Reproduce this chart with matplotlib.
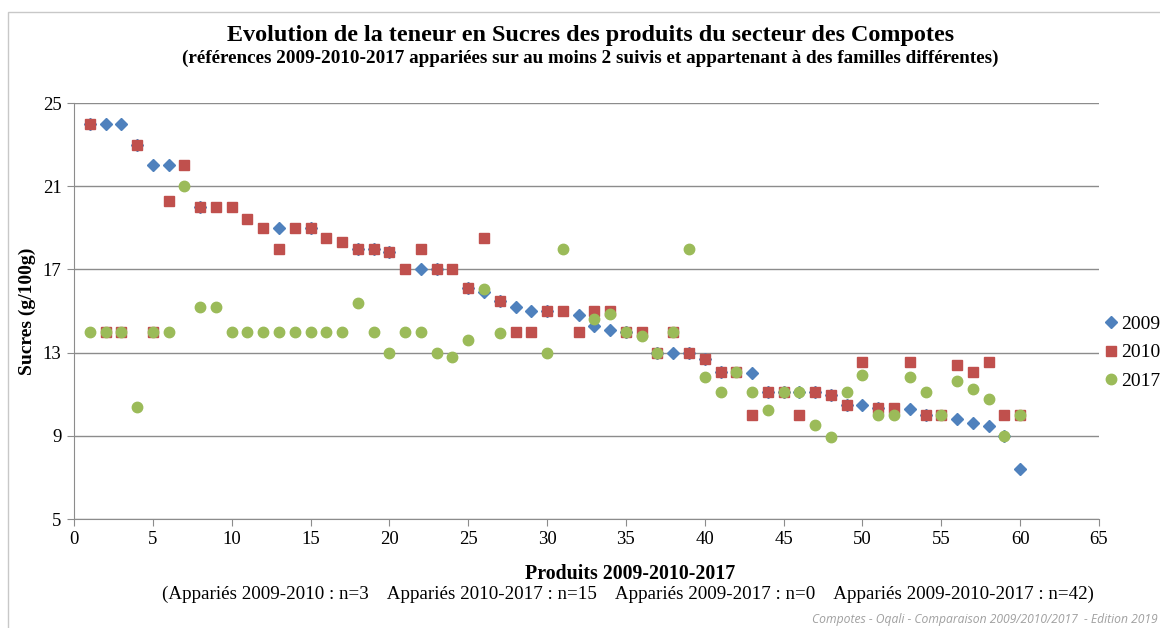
import numpy as np
import matplotlib
matplotlib.use('Agg')
import matplotlib.pyplot as plt
from matplotlib.patches import Rectangle

nan = np.nan

produits = np.arange(1, 61)

sucres_2009 = [24, 24, 24, 23, 22, 22, nan, 20, nan, nan,
               nan, nan, 19, nan, 19, nan, nan, 18, 18, 17.85,
               nan, 17, 17, nan, 16.1, 15.9, 15.5, 15.2, 15.0, 15.0,
               nan, 14.8, 14.3, 14.1, 14, nan, 13, 13, 13, 12.7,
               12.05, nan, 12.0, 11.1, 11.1, 11.1, 11.1, 10.95, 10.5, 10.5,
               10.35, nan, 10.3, 10.0, nan, 9.8, 9.6, 9.45, 9.0, 7.4]

sucres_2010 = [24, 14, 14, 23, 14, 20.3, 22, 20, 20, 20,
               19.4, 19, 18, 19, 19, 18.5, 18.3, 18, 18, 17.85,
               17, 18, 17, 17, 16.1, 18.5, 15.5, 14, 14, 15,
               15, 14, 15, 15, 14, 14, 13, 14, 13, 12.7,
               12.05, 12.05, 10, 11.1, 11.1, 10, 11.1, 10.95, 10.5, 12.55,
               10.35, 10.35, 12.55, 10, 10, 12.4, 12.05, 12.55, 10, 10]

sucres_2017 = [14, 14, 14, 10.4, 14, 14, 21, 15.2, 15.2, 14,
               14, 14, 14, 14, 14, 14, 14, 15.4, 14, 13,
               14, 14, 13, 12.8, 13.6, 16.05, 13.95, nan, nan, 13,
               18, nan, 14.6, 14.85, 14, 13.8, 13, 14, 18, 11.85,
               11.1, 12.05, 11.1, 10.25, 11.1, 11.1, 9.5, 8.95, 11.1, 11.9,
               10, 10, 11.85, 11.1, 10, 11.65, 11.25, 10.75, 9.0, 10]

serif = 'Liberation Serif'

fig = plt.figure(figsize=(11.6, 6.28), dpi=100)
fig.patches.append(Rectangle((8 / 1160, -0.1), 1.2, 1 - 12 / 628 + 0.1,
                             transform=fig.transFigure, fill=False,
                             edgecolor='#c8c8c8', linewidth=1))

ax = fig.add_axes([74 / 1160, 1 - 519 / 628, 1025 / 1160, 416 / 628])

ax.plot(produits, sucres_2009, linestyle='none', marker='D', markersize=5.8,
        color='#4F81BD', label='2009')
ax.plot(produits, sucres_2010, linestyle='none', marker='s', markersize=7,
        color='#C0504D', label='2010')
ax.plot(produits, sucres_2017, linestyle='none', marker='o', markersize=7.5,
        color='#9BBB59', label='2017')

ax.set_xlim(0, 65)
ax.set_ylim(5, 25)
ax.set_xticks(np.arange(0, 66, 5))
ax.set_yticks(np.arange(5, 26, 4))
ax.grid(axis='y', color='#8c8c8c', linewidth=1)
ax.set_axisbelow(True)
for s in ['top', 'right']:
    ax.spines[s].set_visible(False)
for s in ['left', 'bottom']:
    ax.spines[s].set_color('#8c8c8c')
ax.tick_params(direction='out', length=5, color='#8c8c8c', labelsize=13.5,
               pad=4)
for lab in ax.get_xticklabels() + ax.get_yticklabels():
    lab.set_family(serif)

leg = ax.legend(loc='center left', bbox_to_anchor=(0.995, 0.4), frameon=False,
                prop={'family': serif, 'size': 14}, handletextpad=0.0,
                labelspacing=0.55, borderaxespad=0.0, handlelength=1.0)

fig.text(591 / 1160, 1 - 35 / 628,
         'Evolution de la teneur en Sucres des produits du secteur des Compotes',
         ha='center', va='center', family=serif, weight='bold', fontsize=17.4)
fig.text(590 / 1160, 1 - 58 / 628,
         '(références 2009-2010-2017 appariées sur au moins 2 suivis et '
         'appartenant à des familles différentes)',
         ha='center', va='center', family=serif, weight='bold', fontsize=13.8)
fig.text(27 / 1160, 1 - 311 / 628, 'Sucres (g/100g)', rotation=90,
         ha='center', va='center', family=serif, weight='bold', fontsize=14)
fig.text(630 / 1160, 1 - 574 / 628, 'Produits 2009-2010-2017',
         ha='center', va='center', family=serif, weight='bold', fontsize=14.3)
fig.text(628 / 1160, 1 - 594 / 628,
         '(Appariés 2009-2010 : n=3    Appariés 2010-2017 : n=15    '
         'Appariés 2009-2017 : n=0    Appariés 2009-2010-2017 : n=42)',
         ha='center', va='center', family=serif, fontsize=13.7)
fig.text(812 / 1160, 1 - 619 / 628,
         'Compotes - Oqali - Comparaison 2009/2010/2017  - Edition 2019',
         ha='left', va='center', family='Open Sans', style='italic',
         color='#a0a0a0', fontsize=8.7)

fig.savefig('out.png', dpi=100)
